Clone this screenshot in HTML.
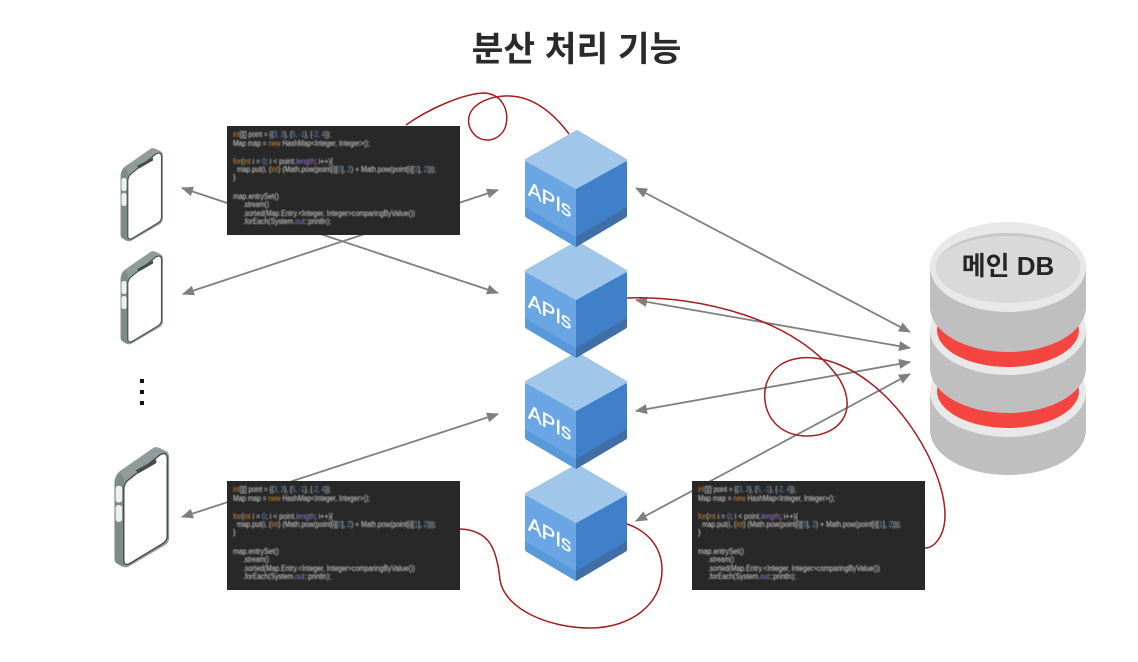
<!DOCTYPE html>
<html lang="ko"><head><meta charset="utf-8"><title>분산 처리 기능</title>
<style>
html,body{margin:0;padding:0;background:#fff;width:1138px;height:662px;overflow:hidden}
svg{display:block}
.c{font-family:"Liberation Sans",sans-serif;font-size:7.8px;fill:#dedede}
.o{fill:#d08a30}.n{fill:#5f9ad4}.p{fill:#a077dc}
.a{font-family:"Liberation Sans",sans-serif;font-size:20.5px;fill:#fff;stroke:#fff;stroke-width:.35px}
</style></head><body>
<svg width="1138" height="662" viewBox="0 0 1138 662" xmlns="http://www.w3.org/2000/svg">
<defs>
<filter id="bl" x="-5%" y="-5%" width="110%" height="110%"><feGaussianBlur stdDeviation="0.4"/></filter>
<marker id="ar" viewBox="0 0 12 10" refX="11" refY="5" markerWidth="12" markerHeight="10" markerUnits="userSpaceOnUse" orient="auto-start-reverse"><path d="M0 0L12 5L0 10z" fill="#7f7f7f"/></marker>
<g id="phone">
<path d="M151 148.500Q153 147.500 156 149L160 151Q163 152 163 156V218Q163 222 160 224L131 241Q128 242 125 240L122 238Q120.500 237 120.500 234V176Q120.500 170 125 166.500Z" fill="#919c9a"/>
<path d="M121 176Q121 171 125 168L128 172V240H126L122 238Q121 237 121 234Z" fill="#7f8b89"/>
<rect x="121.500" y="178" width="5" height="13" rx="2.200" fill="#eef0ef"/><rect x="121.500" y="193" width="5" height="13" rx="2.200" fill="#eef0ef"/>
<path d="M156 154Q161.500 151 161.500 157.500V217Q161.500 221 157 223.500L133 238Q127.800 241 127.800 235.500V181Q127.800 176 132 173Z" fill="#fff" stroke="#444c4b" stroke-width="1.100"/>
<path d="M137 166L153 157.500V160.500L139 168.500Z" fill="#444c4b"/>
</g>
<g id="cube">
<path d="M527 160L576 188V247L527 218Q525 217 525 215V163Q525 160 527 160Z" fill="#6ba6e4"/>
<path d="M625 160L576 188V247L625 218Q627 217 627 215V163Q627 160 625 160Z" fill="#3f80c9"/>
<path d="M525 207L576 237V247L527 218Q525 217 525 215Z" fill="#5a98dc"/>
<path d="M576 237L627 207V215Q627 217 625 218L576 247Z" fill="#406fa8"/>
<path d="M577 131.500L625.500 160L576 187.500L526.500 160Z" fill="#a0c6ea" stroke="#a0c6ea" stroke-width="3" stroke-linejoin="round"/>
</g>
</defs>

<text x="576.500" y="61" text-anchor="middle" font-family="'Noto Sans CJK KR','Liberation Sans',sans-serif" font-size="34.500" font-weight="700" fill="#2a2a2a">분산 처리 기능</text>

<use href="#phone"/>
<use href="#phone" y="103"/>
<use href="#phone" transform="translate(115 447) scale(1.29) translate(-121 -148)"/>
<rect x="140" y="379" width="4" height="4" fill="#111"/><rect x="140" y="390" width="4" height="4" fill="#111"/><rect x="140" y="401" width="4" height="4" fill="#111"/>

<g stroke="#7f7f7f" stroke-width="1.8" fill="none" marker-start="url(#ar)" marker-end="url(#ar)">
<path d="M182 188L498 293"/>
<path d="M183 294L498 190"/>
<path d="M182 517L498 414"/>
<path d="M636 188L910 332"/>
<path d="M636 300L910 348"/>
<path d="M636 411L910 362"/>
<path d="M636 521L910 374"/>
</g>

<use href="#cube" y="334"/>
<use href="#cube" y="222"/>
<use href="#cube" y="111"/>
<use href="#cube"/>
<text class="a" transform="matrix(1 .53 0 1 528 195)">APIs</text>
<text class="a" transform="matrix(1 .53 0 1 528 307)">APIs</text>
<text class="a" transform="matrix(1 .53 0 1 528 418)">APIs</text>
<text class="a" transform="matrix(1 .53 0 1 528 530)">APIs</text>

<!-- DB -->
<path d="M930 392V430A78 45 0 0 0 1086 430V392Z" fill="#bfbfbf"/>
<ellipse cx="1008" cy="392" rx="78" ry="45" fill="#e8e8e8"/>
<ellipse cx="1008" cy="391" rx="71" ry="37" fill="#f44540"/>
<path d="M930 330V368A78 45 0 0 0 1086 368V330Z" fill="#bfbfbf"/>
<ellipse cx="1008" cy="330" rx="78" ry="45" fill="#e8e8e8"/>
<ellipse cx="1008" cy="330" rx="71" ry="37" fill="#f44540"/>
<path d="M930 267V307A78 45 0 0 0 1086 307V267Z" fill="#bfbfbf"/>
<ellipse cx="1008" cy="267" rx="78" ry="45" fill="#e8e8e8"/>
<ellipse cx="1008" cy="268" rx="72.500" ry="35" fill="#d9d9d9"/>
<path d="M935.500 268A72.500 35 0 0 1 1080.500 268A72.500 32 0 0 0 935.500 268Z" fill="#c8c8c8"/>
<text x="1008" y="275" text-anchor="middle" font-family="'Liberation Sans','Noto Sans CJK KR',sans-serif" font-size="26" font-weight="700" fill="#262626">메인 DB</text>

<!-- code 1 -->
<rect x="227" y="126" width="233" height="109" fill="#282828"/>
<g class="c" filter="url(#bl)">
<text x="233" y="137" textLength="98" lengthAdjust="spacingAndGlyphs"><tspan class="o">int</tspan>[][] point = {{<tspan class="n">3, 3</tspan>}, {<tspan class="n">5, -1</tspan>}, {<tspan class="n">-2, 4</tspan>}};</text>
<text x="233" y="146" textLength="137" lengthAdjust="spacingAndGlyphs">Map map = <tspan class="o">new</tspan> HashMap&lt;Integer, Integer&gt;();</text>
<text x="233" y="164" textLength="100" lengthAdjust="spacingAndGlyphs"><tspan class="o">for</tspan>(<tspan class="o">int</tspan> i = <tspan class="n">0</tspan>; i &lt; point.<tspan class="p">length</tspan>; i++){</text>
<text x="237" y="172" textLength="199" lengthAdjust="spacingAndGlyphs">map.put(i, (<tspan class="o">int</tspan>) (Math.pow(point[i][<tspan class="n">0</tspan>], <tspan class="n">2</tspan>) + Math.pow(point[i][<tspan class="n">1</tspan>], <tspan class="n">2</tspan>)));</text>
<text x="233" y="180">}</text>
<text x="233" y="199" textLength="46" lengthAdjust="spacingAndGlyphs">map.entrySet()</text>
<text x="243" y="207" textLength="26" lengthAdjust="spacingAndGlyphs">.stream()</text>
<text x="243" y="216" textLength="172" lengthAdjust="spacingAndGlyphs">.sorted(Map.Entry.&lt;Integer, Integer&gt;comparingByValue())</text>
<text x="243" y="224" textLength="88" lengthAdjust="spacingAndGlyphs">.forEach(System.<tspan class="p">out</tspan>::println);</text>
</g>
<!-- code 2 -->
<rect x="227" y="481" width="233" height="109" fill="#282828"/>
<g class="c" filter="url(#bl)">
<text x="233" y="492" textLength="98" lengthAdjust="spacingAndGlyphs"><tspan class="o">int</tspan>[][] point = {{<tspan class="n">3, 3</tspan>}, {<tspan class="n">5, -1</tspan>}, {<tspan class="n">-2, 4</tspan>}};</text>
<text x="233" y="501" textLength="137" lengthAdjust="spacingAndGlyphs">Map map = <tspan class="o">new</tspan> HashMap&lt;Integer, Integer&gt;();</text>
<text x="233" y="519" textLength="100" lengthAdjust="spacingAndGlyphs"><tspan class="o">for</tspan>(<tspan class="o">int</tspan> i = <tspan class="n">0</tspan>; i &lt; point.<tspan class="p">length</tspan>; i++){</text>
<text x="237" y="527" textLength="199" lengthAdjust="spacingAndGlyphs">map.put(i, (<tspan class="o">int</tspan>) (Math.pow(point[i][<tspan class="n">0</tspan>], <tspan class="n">2</tspan>) + Math.pow(point[i][<tspan class="n">1</tspan>], <tspan class="n">2</tspan>)));</text>
<text x="233" y="535">}</text>
<text x="233" y="554" textLength="46" lengthAdjust="spacingAndGlyphs">map.entrySet()</text>
<text x="243" y="562" textLength="26" lengthAdjust="spacingAndGlyphs">.stream()</text>
<text x="243" y="571" textLength="172" lengthAdjust="spacingAndGlyphs">.sorted(Map.Entry.&lt;Integer, Integer&gt;comparingByValue())</text>
<text x="243" y="579" textLength="88" lengthAdjust="spacingAndGlyphs">.forEach(System.<tspan class="p">out</tspan>::println);</text>
</g>
<!-- code 3 -->
<rect x="692" y="481" width="233" height="109" fill="#282828"/>
<g class="c" filter="url(#bl)">
<text x="698" y="492" textLength="98" lengthAdjust="spacingAndGlyphs"><tspan class="o">int</tspan>[][] point = {{<tspan class="n">3, 3</tspan>}, {<tspan class="n">5, -1</tspan>}, {<tspan class="n">-2, 4</tspan>}};</text>
<text x="698" y="501" textLength="137" lengthAdjust="spacingAndGlyphs">Map map = <tspan class="o">new</tspan> HashMap&lt;Integer, Integer&gt;();</text>
<text x="698" y="519" textLength="100" lengthAdjust="spacingAndGlyphs"><tspan class="o">for</tspan>(<tspan class="o">int</tspan> i = <tspan class="n">0</tspan>; i &lt; point.<tspan class="p">length</tspan>; i++){</text>
<text x="702" y="527" textLength="199" lengthAdjust="spacingAndGlyphs">map.put(i, (<tspan class="o">int</tspan>) (Math.pow(point[i][<tspan class="n">0</tspan>], <tspan class="n">2</tspan>) + Math.pow(point[i][<tspan class="n">1</tspan>], <tspan class="n">2</tspan>)));</text>
<text x="698" y="535">}</text>
<text x="698" y="554" textLength="46" lengthAdjust="spacingAndGlyphs">map.entrySet()</text>
<text x="708" y="562" textLength="26" lengthAdjust="spacingAndGlyphs">.stream()</text>
<text x="708" y="571" textLength="172" lengthAdjust="spacingAndGlyphs">.sorted(Map.Entry.&lt;Integer, Integer&gt;comparingByValue())</text>
<text x="708" y="579" textLength="88" lengthAdjust="spacingAndGlyphs">.forEach(System.<tspan class="p">out</tspan>::println);</text>
</g>

<g fill="none" stroke="#a51d1d" stroke-width="1.5">
<path d="M406 125C430 108 465 93 485 93C505 95 510 115 505 128C498 144 475 145 469 125C465 105 490 95 510 96C535 97 555 115 569 134"/>
<path d="M627 298C700 295 800 320 840 380C860 415 835 437 805 436C775 435 760 410 766 385C775 355 810 352 840 365C900 390 945 470 945 515C945 535 935 548 925 548"/>
<path d="M460 529C490 530 497 550 500 580C505 610 550 628 590 628C630 628 662 605 662 570C662 545 645 530 627 524"/>
</g>
</svg>
</body></html>
